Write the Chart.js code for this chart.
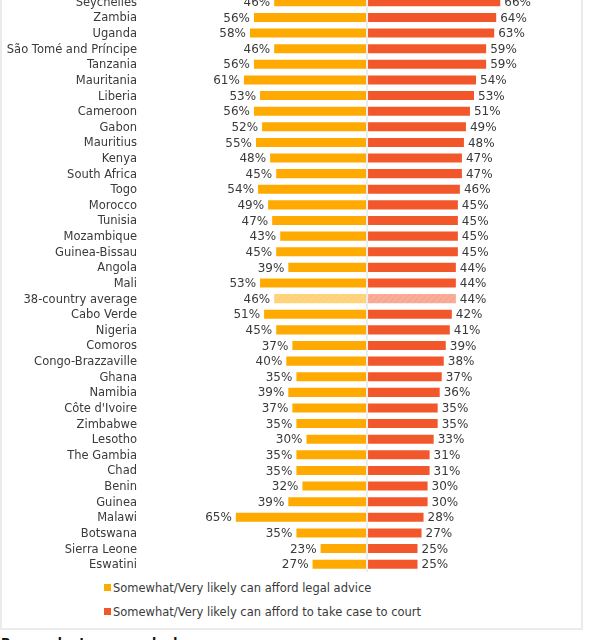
<!DOCTYPE html>
<html>
<head>
<meta charset="utf-8">
<script src="https://cdn.jsdelivr.net/npm/chart.js@4.4.1/dist/chart.umd.min.js"></script>
<style>
    body { margin: 0; background: #fff; overflow: hidden; font-family: 'DejaVu Sans', sans-serif; color: #3a3a3a; }
    #box { position: absolute; left: 0; top: -20px; width: 583px; height: 650px; border: 2px solid #ebebeb; box-sizing: border-box; }
    #wrap { position: absolute; left: 2px; top: -6px; width: 579px; height: 578px; }
    #legend { position: absolute; left: 104px; top: 580px; font-size: 11.5px; }
    #legend div { height: 24px; line-height: 16px; white-space: nowrap; }
    #legend span { display: inline-block; width: 7px; height: 7px; margin-right: 2px; vertical-align: 1px; }
    #note { position: absolute; left: 1px; top: 635px; margin: 0; font-size: 12.5px; font-weight: bold; color: #111; }
</style>
</head>
<body>
<div id="box"></div>
<div id="wrap"><canvas id="chart"></canvas></div>
<div id="legend"></div>
<p id="note">Respondents were asked:</p>
<script>
const countries = ['Seychelles', 'Zambia', 'Uganda', 'São Tomé and Príncipe', 'Tanzania', 'Mauritania', 'Liberia',
    'Cameroon', 'Gabon', 'Mauritius', 'Kenya', 'South Africa', 'Togo', 'Morocco', 'Tunisia', 'Mozambique',
    'Guinea-Bissau', 'Angola', 'Mali', '38-country average', 'Cabo Verde', 'Nigeria', 'Comoros',
    'Congo-Brazzaville', 'Ghana', 'Namibia', "Côte d'Ivoire", 'Zimbabwe', 'Lesotho', 'The Gambia', 'Chad',
    'Benin', 'Guinea', 'Malawi', 'Botswana', 'Sierra Leone', 'Eswatini'];
const legalAdvice = [46, 56, 58, 46, 56, 61, 53, 56, 52, 55, 48, 45, 54, 49, 47, 43, 45, 39, 53, 46, 51, 45, 37,
    40, 35, 39, 37, 35, 30, 35, 35, 32, 39, 65, 35, 23, 27];
const takeCourt = [66, 64, 63, 59, 59, 54, 53, 51, 49, 48, 47, 47, 46, 45, 45, 45, 45, 44, 44, 44, 42, 41, 39,
    38, 37, 36, 35, 35, 33, 31, 31, 30, 30, 28, 27, 25, 25];
const seriesNames = ['Somewhat/Very likely can afford legal advice', 'Somewhat/Very likely can afford to take case to court'];
const seriesColors = ['#ffaa00', '#f2572b'];

const avgIndex = countries.indexOf('38-country average');
const textColor = '#3a3a3a';
const fontFamily = "'DejaVu Sans', sans-serif";

// light hatched fill for the average row
function hatch(base, line) {
    const c = document.createElement('canvas');
    c.width = 6; c.height = 6;
    const g = c.getContext('2d');
    g.fillStyle = base;
    g.fillRect(0, 0, 6, 6);
    g.strokeStyle = line;
    g.lineWidth = 1;
    g.beginPath();
    g.moveTo(0, 6); g.lineTo(6, 0);
    g.moveTo(-1, 1); g.lineTo(1, -1);
    g.moveTo(5, 7); g.lineTo(7, 5);
    g.stroke();
    return g.createPattern(c, 'repeat');
}
const avgFills = [hatch('#ffd47e', '#ffcd6c'), hatch('#f9ad98', '#f6a087')];

const zeroLine = {
    id: 'zeroLine',
    afterDatasetsDraw(chart) {
        const { ctx, chartArea } = chart;
        const x = chart.scales.x.getPixelForValue(0);
        ctx.save();
        ctx.strokeStyle = '#ececec';
        ctx.lineWidth = 2;
        ctx.beginPath();
        ctx.moveTo(x, chartArea.top);
        ctx.lineTo(x, chartArea.bottom);
        ctx.stroke();
        ctx.restore();
    }
};

const valueLabels = {
    id: 'valueLabels',
    afterDatasetsDraw(chart) {
        const ctx = chart.ctx;
        ctx.save();
        ctx.font = '12px ' + fontFamily;
        ctx.fillStyle = textColor;
        ctx.textBaseline = 'middle';
        chart.data.datasets.forEach((ds, i) => {
            chart.getDatasetMeta(i).data.forEach((bar, j) => {
                const v = Math.abs(ds.data[j]);
                if (ds.data[j] < 0) {
                    ctx.textAlign = 'right';
                    ctx.fillText(v + '%', bar.x - 4, bar.y + 1);
                } else {
                    ctx.textAlign = 'left';
                    ctx.fillText(v + '%', bar.x + 4, bar.y + 1);
                }
            });
        });
        ctx.restore();
    }
};

const chart = new Chart(document.getElementById('chart'), {
    type: 'bar',
    data: {
        labels: countries,
        datasets: [{
            label: seriesNames[0],
            data: legalAdvice.map(v => -v),
            backgroundColor: c => c.dataIndex === avgIndex ? avgFills[0] : seriesColors[0]
        }, {
            label: seriesNames[1],
            data: takeCourt,
            backgroundColor: c => c.dataIndex === avgIndex ? avgFills[1] : seriesColors[1]
        }]
    },
    options: {
        indexAxis: 'y',
        responsive: true,
        maintainAspectRatio: false,
        animation: false,
        layout: { padding: 0 },
        datasets: {
            bar: { barPercentage: 0.58, categoryPercentage: 1 }
        },
        scales: {
            x: { stacked: true, display: false, min: -110, max: 106 },
            y: {
                stacked: true,
                grid: { display: false, drawTicks: false },
                border: { display: false },
                ticks: { color: textColor, padding: 8, autoSkip: false, labelOffset: 1, font: { family: fontFamily, size: 11.5 } },
                afterFit: s => { s.width = 143; s.paddingTop = 0; s.paddingBottom = 0; }
            }
        },
        plugins: {
            legend: { display: false },
            tooltip: { enabled: false }
        }
    },
    plugins: [zeroLine, valueLabels]
});

const legend = document.getElementById('legend');
seriesNames.forEach((name, i) => {
    const row = document.createElement('div');
    row.innerHTML = '<span style="background:' + seriesColors[i] + '"></span>' + name;
    legend.appendChild(row);
});
</script>
</body>
</html>
